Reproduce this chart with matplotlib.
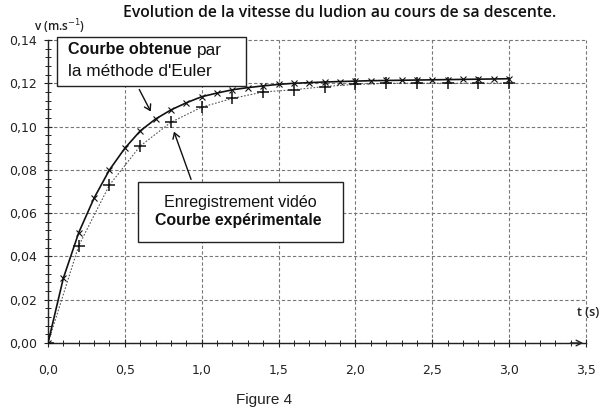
import matplotlib
matplotlib.use("Agg")
import matplotlib.pyplot as plt
from matplotlib.ticker import MultipleLocator, FuncFormatter
from matplotlib.patches import Rectangle, FancyArrowPatch

# ---- data ----
t_euler = [0.0, 0.1, 0.2, 0.3, 0.4, 0.5, 0.6, 0.7, 0.8, 0.9, 1.0,
           1.1, 1.2, 1.3, 1.4, 1.5, 1.6, 1.7, 1.8, 1.9, 2.0,
           2.1, 2.2, 2.3, 2.4, 2.5, 2.6, 2.7, 2.8, 2.9, 3.0]
v_euler = [0.000, 0.030, 0.051, 0.067, 0.080, 0.090, 0.098, 0.1035, 0.1077, 0.111, 0.1138,
           0.1155, 0.117, 0.118, 0.1188, 0.1195, 0.1200, 0.1203, 0.1206, 0.1208, 0.1210,
           0.1212, 0.1213, 0.1214, 0.1215, 0.1216, 0.1217, 0.1218, 0.1219, 0.1220, 0.1221]

t_exp = [0.0, 0.2, 0.4, 0.6, 0.8, 1.0, 1.2, 1.4, 1.6, 1.8, 2.0, 2.2, 2.4, 2.6, 2.8, 3.0]
v_exp = [0.000, 0.045, 0.073, 0.091, 0.102, 0.109, 0.113, 0.116, 0.117, 0.1185,
         0.1195, 0.1200, 0.1200, 0.1200, 0.1200, 0.1200]

title = "Evolution de la vitesse du ludion au cours de sa descente."
ylabel = "v (m.s$^{-1}$)"
xlabel = "t (s)"

W, H = 604, 416
fig = plt.figure(figsize=(W / 100, H / 100), dpi=100)
fig.patch.set_facecolor("white")
ax = fig.add_axes([48 / W, 1 - 343 / H, (586 - 48) / W, (343 - 40) / H])

ax.plot(t_exp, v_exp, color="#555555", lw=0.8, ls=(0, (1.5, 1.5)),
        marker="+", ms=8, mew=1.1, mec="#111111", zorder=3)
ax.plot(t_euler, v_euler, color="#111111", lw=1.2, ls="-",
        marker="x", ms=4, mew=0.8, mec="#111111", zorder=4)

ax.set_xlim(0, 3.5)
ax.set_ylim(0, 0.14)
ax.xaxis.set_major_locator(MultipleLocator(0.5))
ax.xaxis.set_minor_locator(MultipleLocator(0.1))
ax.yaxis.set_major_locator(MultipleLocator(0.02))
ax.yaxis.set_minor_locator(MultipleLocator(0.004))
ax.xaxis.set_major_formatter(FuncFormatter(lambda x, p: f"{x:.1f}".replace(".", ",")))
ax.yaxis.set_major_formatter(FuncFormatter(lambda y, p: f"{y:.2f}".replace(".", ",")))

ax.grid(True, which="major", color="#777777", ls=(0, (3, 2)), lw=0.8)
for gl in ax.get_xgridlines() + ax.get_ygridlines():
    gl.set_clip_on(False)

for s in ["top", "right"]:
    ax.spines[s].set_visible(False)
for s in ["left", "bottom"]:
    ax.spines[s].set_color("#222222")
    ax.spines[s].set_linewidth(1.0)

ax.tick_params(axis="both", which="major", direction="inout", length=6, width=0.8,
               colors="#222222", labelsize=9)
ax.tick_params(axis="both", which="minor", direction="inout", length=4, width=0.7,
               colors="#222222")
ax.tick_params(axis="x", which="major", pad=12)
ax.tick_params(axis="y", which="major", pad=5)

# arrow at end of time axis
ax.annotate("", xy=(3.5, 0), xytext=(3.38, 0), xycoords="data",
            arrowprops=dict(arrowstyle="->", color="#222222", lw=1.0), annotation_clip=False)

def px(x, y):
    return (x / W, 1 - y / H)

fig.text(*px(340, 13), title, ha="center", va="center", fontsize=11.3,
         family="Open Sans", weight="semibold", color="#111111")
fig.text(*px(60, 27), ylabel, ha="center", va="center", fontsize=8.5,
         family="Open Sans", weight="semibold", color="#222222")
fig.text(*px(588, 313), xlabel, ha="center", va="center", fontsize=9,
         family="Open Sans", weight="semibold", color="#222222")
fig.text(*px(264, 400), "Figure 4", ha="center", va="center", fontsize=11,
         family="Liberation Sans", color="#222222")

# box 1
x0, y0, x1, y1 = 57, 37, 246, 86
fig.patches.append(Rectangle(px(x0, y1), (x1 - x0) / W, (y1 - y0) / H,
                             transform=fig.transFigure, facecolor="white",
                             edgecolor="#222222", lw=1.0, zorder=5))
t1 = fig.text(*px(68, 50), "Courbe obtenue", ha="left", va="center", fontsize=11.6,
              family="Liberation Sans", weight="bold", color="#111111", zorder=6)
fig.text(*px(68, 72), "la méthode d'Euler", ha="left", va="center", fontsize=12.4,
         family="Liberation Sans", color="#111111", zorder=6)

# box 2
x0, y0, x1, y1 = 138, 182, 343, 242
fig.patches.append(Rectangle(px(x0, y1), (x1 - x0) / W, (y1 - y0) / H,
                             transform=fig.transFigure, facecolor="white",
                             edgecolor="#222222", lw=1.0, zorder=5))
fig.text(*px(240, 202), "Enregistrement vidéo", ha="center", va="center", fontsize=11.6,
         family="Liberation Sans", color="#111111", zorder=6)
fig.text(*px(238, 221), "Courbe expérimentale", ha="center", va="center", fontsize=11.4,
         family="Liberation Sans", weight="bold", color="#111111", zorder=6)

# arrows to curves
fig.add_artist(FancyArrowPatch(px(138, 87), px(152, 114),
               transform=fig.transFigure, arrowstyle="->,head_length=4,head_width=2.5",
               color="#111111", lw=1.0))
fig.add_artist(FancyArrowPatch(px(192, 182), px(173, 129),
               transform=fig.transFigure, arrowstyle="->,head_length=4,head_width=2.5",
               color="#111111", lw=1.0))

# place "par" right after the bold part
fig.canvas.draw()
bb = t1.get_window_extent(fig.canvas.get_renderer())
fig.text((bb.x1 + 5) / W, (bb.y0 + bb.y1) / 2 / H, "par", ha="left", va="center",
         fontsize=12.4, family="Liberation Sans", color="#111111", zorder=6)

fig.savefig("out.png", dpi=100, facecolor="white")
